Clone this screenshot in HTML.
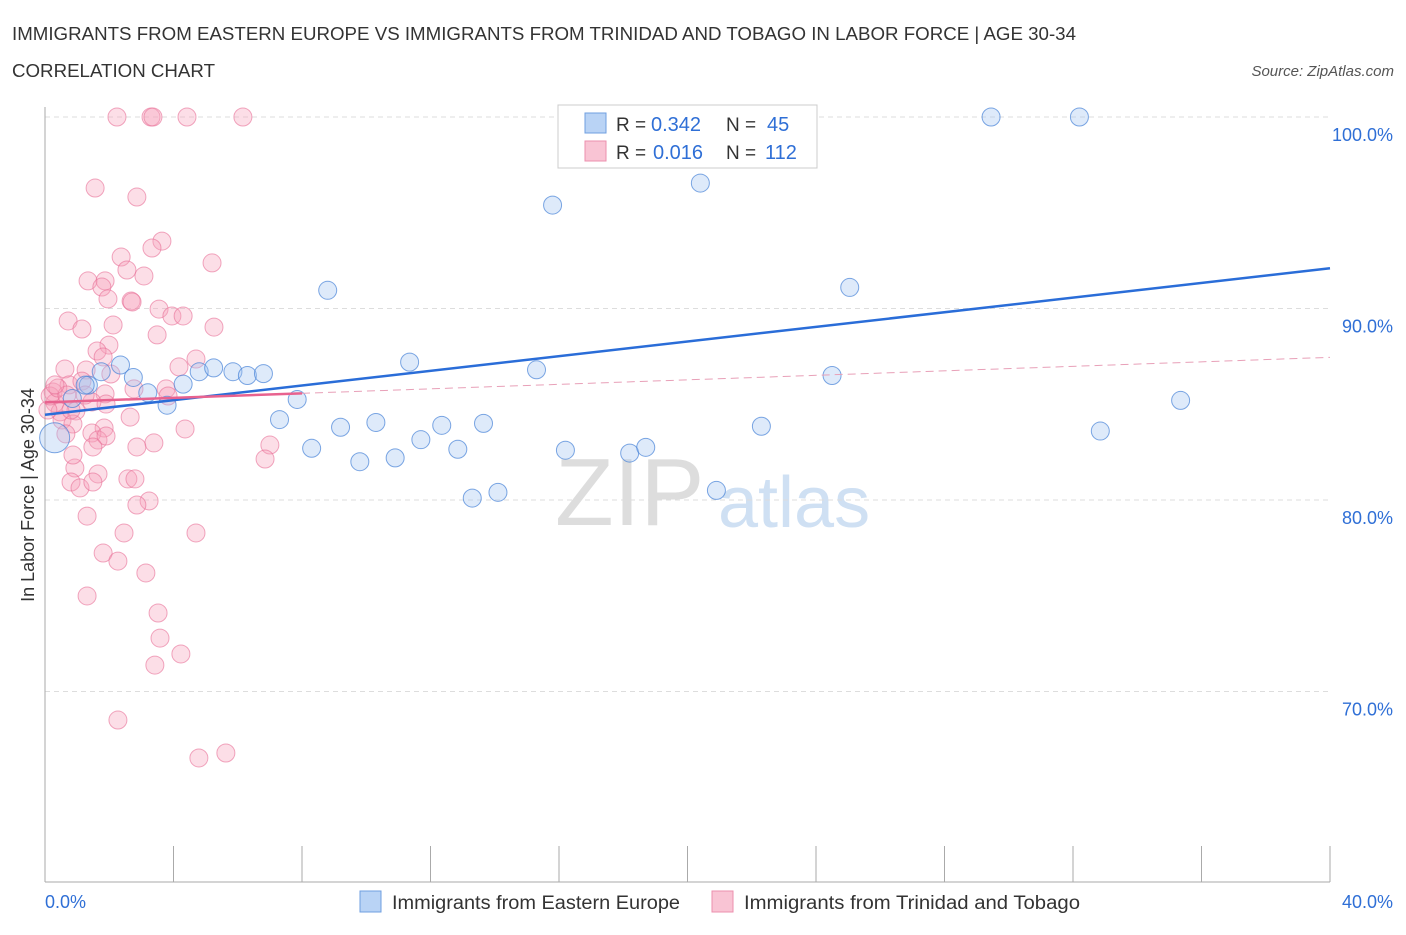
<!DOCTYPE html>
<html><head><meta charset="utf-8"><style>
body{margin:0;background:#fff;font-family:"Liberation Sans",sans-serif;}
svg text{font-family:"Liberation Sans",sans-serif;}
</style></head><body>
<svg id="c" width="1406" height="930" xmlns="http://www.w3.org/2000/svg">
<text x="12" y="40" font-size="18" fill="#333" textLength="1064" lengthAdjust="spacingAndGlyphs">IMMIGRANTS FROM EASTERN EUROPE VS IMMIGRANTS FROM TRINIDAD AND TOBAGO IN LABOR FORCE | AGE 30-34</text>
<text x="12" y="77" font-size="18" fill="#333" textLength="203" lengthAdjust="spacingAndGlyphs">CORRELATION CHART</text>
<text x="1394" y="76" font-size="15" fill="#555" font-style="italic" text-anchor="end">Source: ZipAtlas.com</text>
<text x="555" y="525" font-size="96" fill="#ddd" font-family="Liberation Serif">ZIP</text>
<text x="718" y="527" font-size="72" fill="#cfe0f3">atlas</text>
<text transform="translate(34,495) rotate(-90)" font-size="18" fill="#333" text-anchor="middle">In Labor Force | Age 30-34</text>
<g id="grid"></g><g id="pts"></g><g id="lines"></g>
<rect x="558" y="105" width="259" height="63" fill="#fff" stroke="#ccc"/>
<rect x="585" y="113" width="21" height="20" fill="#b9d3f5" stroke="#6f9fe0"/>
<rect x="585" y="141" width="21" height="20" fill="#f9c4d4" stroke="#ec8fae"/>
<g font-size="19">
<text x="616" y="131" fill="#333">R =</text><text x="651" y="131" fill="#2f6fd6" font-size="20">0.342</text>
<text x="726" y="131" fill="#333">N =</text><text x="767" y="131" fill="#2f6fd6" font-size="20">45</text>
<text x="616" y="159" fill="#333">R =</text><text x="653" y="159" fill="#2f6fd6" font-size="20">0.016</text>
<text x="726" y="159" fill="#333">N =</text><text x="765" y="159" fill="#2f6fd6" font-size="20">112</text>
</g>
<rect x="360" y="891" width="21" height="21" fill="#b9d3f5" stroke="#6f9fe0"/>
<text x="392" y="909" font-size="19" fill="#333" textLength="288" lengthAdjust="spacingAndGlyphs">Immigrants from Eastern Europe</text>
<rect x="712" y="891" width="21" height="21" fill="#f9c4d4" stroke="#ec8fae"/>
<text x="744" y="909" font-size="19" fill="#333" textLength="336" lengthAdjust="spacingAndGlyphs">Immigrants from Trinidad and Tobago</text>
<text x="45" y="908" font-size="18" fill="#2f6fd6">0.0%</text>
<text x="1393" y="908" font-size="18" fill="#2f6fd6" text-anchor="end">40.0%</text>
</svg>
<script>
const yTicks=[100,90,80,70];
const xTicks=[0,4,8,12,16,20,24,28,32,36,40];
const blueX=[17.9,21.2,29.45,32.2,15.8,20.4,8.8,25.05,11.35,15.3,24.5,2.35,2.75,1.75,4.3,4.8,5.25,5.85,6.3,6.8,7.85,3.2,3.8,1.35,7.3,8.3,9.2,10.3,9.8,10.9,11.7,12.35,12.85,13.65,16.2,18.2,18.7,13.3,14.1,20.9,22.3,32.85,35.35,0.3,1.25,0.85];
const blueY=[100,100,100,100,95.4,96.55,90.95,91.1,87.2,86.8,86.5,87.05,86.4,86.7,86.05,86.7,86.9,86.7,86.5,86.6,85.25,85.6,84.95,86.0,84.2,82.7,83.8,84.05,82.0,82.2,83.15,83.9,82.65,84.0,82.6,82.45,82.75,80.1,80.4,80.5,83.85,83.6,85.2,83.25,86.0,85.3];
const pinkX=[2.24,3.30,3.36,4.42,6.16,1.56,2.86,3.64,3.33,2.37,5.20,2.55,3.08,1.34,1.87,1.77,2.68,2.71,1.96,3.55,0.72,3.95,4.30,2.12,1.15,5.26,3.49,1.99,1.62,1.81,0.62,1.28,4.70,4.17,2.05,0.75,2.77,1.87,3.77,3.83,1.15,1.46,1.90,0.96,0.25,0.31,0.47,0.09,0.53,0.87,2.65,1.84,4.36,1.46,1.65,1.90,0.65,3.39,2.86,1.49,7.00,6.85,0.93,0.87,1.65,2.58,2.80,0.81,1.09,1.49,3.24,2.86,1.31,2.46,4.70,1.81,2.27,3.14,1.31,3.52,3.58,4.23,3.42,2.27,4.79,5.63,0.16,0.40,0.68,0.81,1.25,0.31];
const pinkY=[100,100,100,100,100,96.29,95.82,93.52,93.16,92.69,92.38,92.01,91.70,91.44,91.44,91.12,90.39,90.34,90.50,89.97,89.35,89.61,89.61,89.14,88.93,89.03,88.62,88.09,87.78,87.47,86.84,86.79,87.36,86.95,86.58,86.01,85.80,85.54,85.80,85.43,86.21,85.12,85.01,84.65,85.64,85.07,84.60,84.70,84.18,83.97,84.33,83.76,83.71,83.50,83.13,83.34,83.45,82.98,82.77,82.77,82.87,82.14,81.67,82.35,81.36,81.10,81.10,80.94,80.63,80.94,79.95,79.74,79.16,78.28,78.28,77.23,76.81,76.19,74.99,74.10,72.79,71.96,71.38,68.51,66.53,66.79,85.43,85.85,85.48,84.70,85.48,86.01];
const blueLine=[84.45,92.1];
const pinkLine=[85.1,87.45];
const X=v=>45+v*(1285/40), Y=v=>117+(100-v)*19.15;
const NS='http://www.w3.org/2000/svg';
function mk(t,a,p){const e=document.createElementNS(NS,t);for(const k in a)e.setAttribute(k,a[k]);p.appendChild(e);return e;}
const g=document.getElementById('grid');
yTicks.forEach(v=>{
 const l=mk('line',{x1:45,x2:1330,y1:Y(v),y2:Y(v),stroke:'#ddd','stroke-dasharray':'5,4'},g);
 
 
 const t=mk('text',{x:1393,y:Y(v)+24,'font-size':18,fill:'#2f6fd6','text-anchor':'end'},g);
 t.textContent=v.toFixed(1)+'%';
 
 
});
const ax=mk('line',{x1:45,x2:45,y1:107,y2:882,stroke:'#aaa'},g);


const bx=mk('line',{x1:45,x2:1330,y1:882,y2:882,stroke:'#aaa'},g);


xTicks.forEach(v=>{
 const t=mk('line',{x1:X(v),x2:X(v),y1:846,y2:882,stroke:'#aaa'},g);
 
 
});
const p=document.getElementById('pts');
pinkX.forEach((v,i)=>{
 const c=mk('circle',{cx:X(v),cy:Y(pinkY[i]),r:9,fill:'rgba(246,160,186,0.35)',stroke:'rgba(232,110,150,0.6)','stroke-width':1},p);
 
 
});
blueX.forEach((v,i)=>{
 const c=mk('circle',{cx:X(v),cy:Y(blueY[i]),r:i==43?15:9,fill:'rgba(160,195,240,0.35)',stroke:'rgba(70,130,215,0.7)','stroke-width':1},p);
 
 
});
const L=document.getElementById('lines');
const b=mk('line',{x1:X(0),y1:Y(blueLine[0]),x2:X(40),y2:Y(blueLine[1]),stroke:'#2a6dd8','stroke-width':2.5},L);


const pk=pinkLine[0]+(pinkLine[1]-pinkLine[0])*(8/40);
const ps=mk('line',{x1:X(0),y1:Y(pinkLine[0]),x2:X(8),y2:Y(pk),stroke:'#e8628f','stroke-width':2.5},L);


const pd=mk('line',{x1:X(8),y1:Y(pk),x2:X(40),y2:Y(pinkLine[1]),stroke:'#e8a0b8','stroke-width':1,'stroke-dasharray':'8,5'},L);


</script>
</body></html>
